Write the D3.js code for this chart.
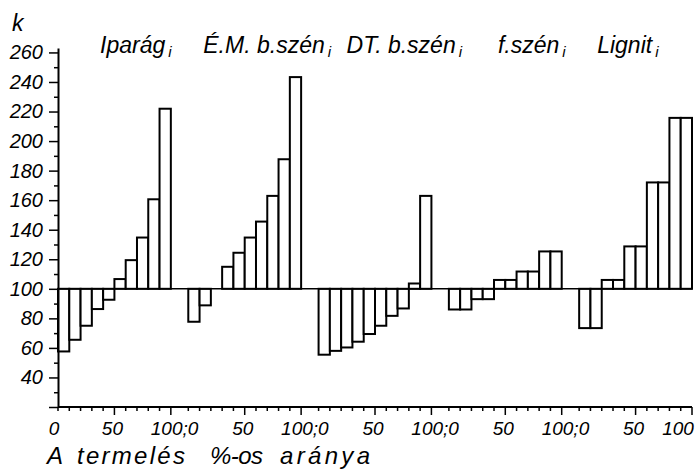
<!DOCTYPE html>
<html><head><meta charset="utf-8">
<script src="https://cdn.jsdelivr.net/npm/d3@7/dist/d3.min.js"></script>
<style>body{margin:0;background:#fff} svg{display:block} text{font-family:"Liberation Sans",Arial,sans-serif;font-style:italic;fill:#000}</style>
</head><body><svg id="c" width="695" height="471"></svg>
<script>
// ---- data ----
const categories = ["Iparág", "É.M. b.szén", "DT. b.szén", "f.szén", "Lignit"];
const binStarts = [0, 10, 20, 30, 40, 50, 60, 70, 80, 90]; // termelés %-os aránya
const iparag  = [57.6, 65.5, 75, 86.3, 92.6, 106.6, 119.4, 134.7, 160.6, 221.9];
const emBSzen = [77.7, 88.8, 100, 114.9, 124.4, 134.7, 145.5, 162.9, 187.7, 243.3];
const dtBSzen = [55.4, 58, 60.3, 64.2, 69.4, 75, 81.7, 86.7, 103.6, 162.9];
const fSzen   = [86, 86, 93, 93, 106, 106, 111.7, 111.7, 125.3, 125.3];
const lignit  = [73.4, 73.4, 106, 106, 128.7, 128.7, 172, 172, 215.7, 215.7];
const seriesValues = [iparag, emBSzen, dtBSzen, fSzen, lignit];
const yMajorTicks = [20, 40, 60, 80, 100, 120, 140, 160, 180, 200, 220, 240, 260];
const yMinorTicks = [30, 50, 70, 90, 110, 130, 150, 170, 190, 210, 230, 250];
const xTickPcts = [0, 10, 20, 30, 40, 50, 60, 70, 80, 90, 100];
const yAxisTitle = "k";
const xAxisWords = ["A", "termelés", "%-os", "aránya"];
const baselineValue = 100;

(function () {
// ---- layout ----
const svg = d3.select("#c");
const pL = 58, pR = 692, pB = 407, pT = 48;
const y = d3.scaleLinear().domain([20, 263]).range([pB, pT]);
const xg = d3.scaleBand().domain(categories).range([pL, pR]).paddingInner(0.134).paddingOuter(0);
const xp = d3.scaleLinear().domain([0, 100]).range([0, xg.bandwidth()]);
const titleOffsets = [42, 15, 28, 49, 18];
const wordX = [47, 77, 210, 280];
const wordLen = [16, 108, 53, 90];

// bars
const bars = [];
categories.forEach((c, i) => seriesValues[i].forEach((v, j) => bars.push({c, s: binStarts[j], v})));
svg.append("g").selectAll("rect").data(bars.filter(d => d.v !== baselineValue)).join("rect")
  .attr("x", d => xg(d.c) + xp(d.s))
  .attr("width", d => xp(d.s + 10) - xp(d.s))
  .attr("y", d => y(Math.max(d.v, baselineValue)))
  .attr("height", d => Math.abs(y(d.v) - y(baselineValue)))
  .attr("fill", "#fff").attr("stroke", "#000").attr("stroke-width", 2);

// baseline
svg.append("line").attr("x1", pL).attr("x2", pR)
  .attr("y1", y(baselineValue)).attr("y2", y(baselineValue))
  .attr("stroke", "#000").attr("stroke-width", 1.5);

// y axis
const yMaj = svg.append("g").attr("transform", `translate(${pL},0)`)
  .call(d3.axisLeft(y).tickValues(yMajorTicks).tickSize(9).tickSizeOuter(0)
    .tickFormat(d => d === 20 ? "" : d));
yMaj.select(".domain").attr("stroke-width", 2);
yMaj.selectAll(".tick line").attr("stroke-width", 1.5);
yMaj.selectAll(".tick text").attr("x", -15);
const yMin = svg.append("g").attr("transform", `translate(${pL},0)`)
  .call(d3.axisLeft(y).tickValues(yMinorTicks).tickSize(4).tickFormat(""));
yMin.select(".domain").remove();
yMin.selectAll(".tick line").attr("stroke-width", 1.5);
svg.selectAll("g[font-family]").attr("font-family", null).attr("font-size", null);
svg.selectAll(".tick text").style("font-size", "20px");

// x axis line and ticks
svg.append("line").attr("x1", pL).attr("x2", pR).attr("y1", pB).attr("y2", pB)
  .attr("stroke", "#000").attr("stroke-width", 2);
const xt = [];
categories.forEach(c => xTickPcts.forEach(p => xt.push({c, p})));
svg.append("g").selectAll("line").data(xt).join("line")
  .attr("x1", d => xg(d.c) + xp(d.p)).attr("x2", d => xg(d.c) + xp(d.p))
  .attr("y1", pB).attr("y2", d => pB + (d.p === 50 || d.p === 100 ? 8 : 4))
  .attr("stroke", "#000").attr("stroke-width", 1.5);

// x tick labels
const xl = [];
categories.forEach((c, i) => {
  if (i === 0) xl.push({t: "0", x: xg(c) + xp(0) - 4});
  xl.push({t: "50", x: xg(c) + xp(50) - 2});
  if (i < categories.length - 1) xl.push({t: "100;0", x: (xg(c) + xp(100) + xg(categories[i + 1])) / 2 - 5});
  else xl.push({t: "100", x: xg(c) + xp(100) - 14});
});
svg.append("g").selectAll("text").data(xl).join("text")
  .attr("x", d => d.x).attr("y", 435).attr("text-anchor", "middle")
  .style("font-size", "19px").text(d => d.t);

// y title
svg.append("text").attr("x", 12).attr("y", 31).style("font-size", "23px").text(yAxisTitle);

// category titles with subscript i
categories.forEach((c, i) => {
  const t = svg.append("text").attr("x", xg(c) + titleOffsets[i]).attr("y", 53).style("font-size", "23px");
  t.append("tspan").text(c);
  t.append("tspan").attr("dx", 3).attr("dy", 4).style("font-size", "15px").text("i");
});

// x axis title
svg.append("g").selectAll("text").data(xAxisWords).join("text")
  .attr("x", (d, i) => wordX[i]).attr("y", 464)
  .attr("textLength", (d, i) => wordLen[i]).attr("lengthAdjust", "spacing")
  .style("font-size", "24px").text(d => d);
})();
</script></body></html>
